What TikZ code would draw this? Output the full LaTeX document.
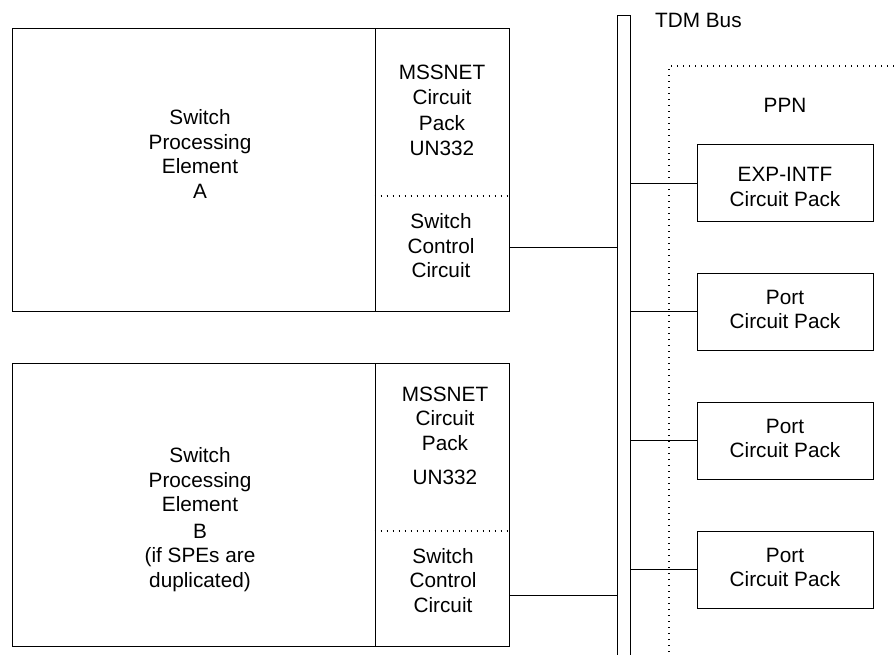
\documentclass[tikz,border=0pt]{standalone}
\usepackage{fontspec}
\setmainfont{Liberation Sans}
\usepackage{tikz}
\usetikzlibrary{positioning,calc}
\tikzset{
  blk/.style={draw,line width=0.9pt,inner sep=0pt,minimum width=176pt,minimum height=77pt},
  txt/.style={align=center,inner sep=0pt,font=\fontsize{20.75}{24.5}\selectfont},
  dotl/.style={line width=1.1pt,dash pattern=on 0.9pt off 5.1pt},
  wire/.style={line width=0.9pt},
}
\begin{document}
\begin{tikzpicture}[x=1pt,y=-1pt]
  \clip (0,0) rectangle (894,655);
  % SPE A
  \node[blk,minimum width=363pt,minimum height=283pt] (speA) at (193.5,169.5) {};
  \node[blk,minimum width=134pt,minimum height=283pt] (cpA) at (442,169.5) {};
  \draw[dotl] (cpA.west |- 0,196) -- (cpA.east |- 0,196);
  \node[txt] (speAt) at (200,154) {Switch\\Processing\\Element\\A};
  \node[txt] (mssA) at (442,110.5) {MSSNET\\[1pt]Circuit\\[1pt]Pack\\[1pt]UN332};
  \node[txt] (sccA) at (441,246) {Switch\\Control\\Circuit};
  % SPE B
  \node[blk,minimum width=363pt,minimum height=283pt] (speB) at (193.5,504.5) {};
  \node[blk,minimum width=134pt,minimum height=283pt] (cpB) at (442,504.5) {};
  \draw[dotl] (cpB.west |- 0,531) -- (cpB.east |- 0,531);
  \node[txt] (speBt) at (200,519.5) {Switch\\Processing\\Element\\[2pt]B\\(if SPEs are\\duplicated)};
  \node[txt] (mssB) at (445,436) {MSSNET\\Circuit\\Pack\\[10pt]UN332};
  \node[txt] (sccB) at (443,580.5) {Switch\\Control\\Circuit};
  % TDM bus
  \node[blk,minimum width=13pt,minimum height=670pt] (bus) at (623.5,350) {};
  \node[txt,anchor=west] (busl) at (655,20) {TDM Bus};
  \coordinate (outA) at (cpA.east |- 0,247);
  \coordinate (outB) at (cpB.east |- 0,595);
  \draw[wire] (outA) -- (outA -| bus.west);
  \draw[wire] (outB) -- (outB -| bus.west);
  % PPN
  \draw[dotl] (669,670) |- (900,66);
  \node[txt] (ppn) at (785,105) {PPN};
  \node[blk] (exp) at (785,183) {};
  \node[txt] at ([yshift=-4pt]exp.center) {EXP-INTF\\Circuit Pack};
  \foreach \y/\n in {311.5/p1, 440.5/p2, 569.5/p3} {
    \node[blk] (\n) at (785,\y) {};
    \node[txt] at ([yshift=2pt]\n.center) {Port\\Circuit Pack};
  }
  \foreach \n in {exp,p1,p2,p3}
    \draw[wire] (\n.west) -- (\n.west -| bus.east);
\end{tikzpicture}
\end{document}
